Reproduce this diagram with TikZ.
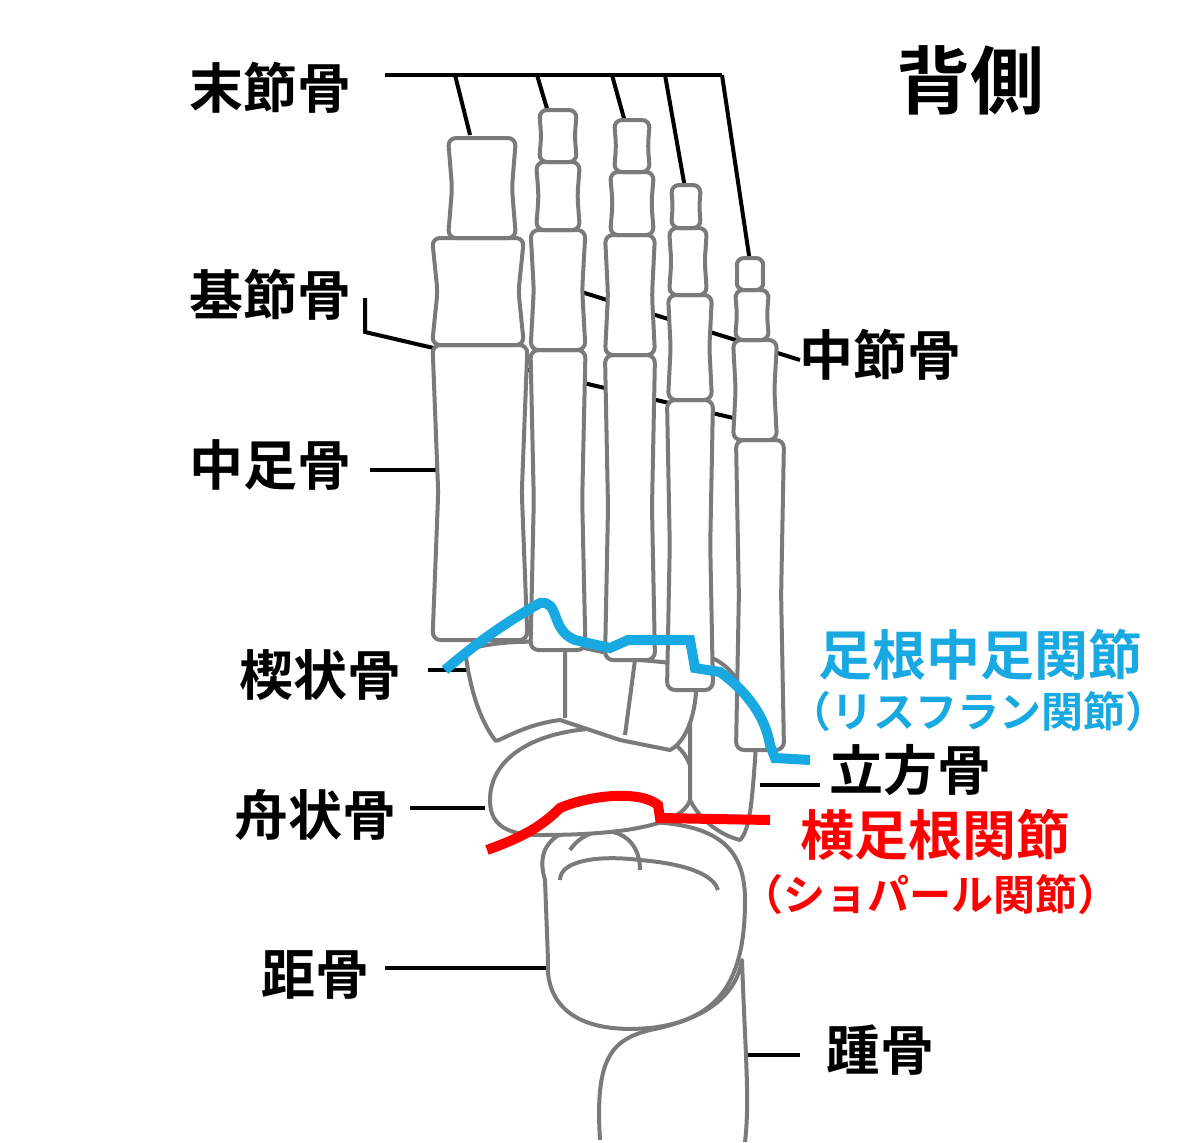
\documentclass[tikz,border=0pt]{standalone}
\usepackage{fontspec}
\setmainfont{Noto Sans CJK JP}[BoldFont={* Bold}]
\usetikzlibrary{positioning}
\begin{document}
\begin{tikzpicture}[x=0.5pt,y=-0.5pt,
  bone/.style={draw=black!52,line width=2pt,fill=white,line join=round},
  leader/.style={draw=black,line width=2pt},
  lbl/.style={font=\bfseries\fontsize{27}{30}\selectfont,inner sep=0pt},
  small/.style={font=\bfseries\fontsize{21}{24}\selectfont,inner sep=0pt}]
\useasboundingbox (0,0) rectangle (1200,1142);

%Fuehrungslinien
\draw[leader] (385,75) -- (722,75);
\draw[leader] (455,75) -- (470,135) (537,75) -- (548,112) (612,75) -- (625,122)
  (665,75) -- (685,188) (722,75) -- (750,262);
\draw[leader] (365,298) -- (365,332) -- (742,420);
\draw[leader] (575,290) -- (800,360);
\draw[leader] (370,470) -- (440,470);
\draw[leader] (428,670) -- (470,670);
\draw[leader] (410,808) -- (485,808);
\draw[leader] (385,968) -- (548,968);
\draw[leader] (740,1055) -- (800,1055);
\draw[leader] (760,785) -- (820,785);

%Knochen Fusswurzel
\draw[bone] (600,1140) .. controls (595,1060) and (610,1040) .. (650,1030)
  .. controls (700,1020) and (735,1000) .. (742,960)
  .. controls (745,1050) and (750,1100) .. (745,1142);
\draw[bone] (545,880) .. controls (530,830) and (580,820) .. (650,822)
  .. controls (720,825) and (745,850) .. (745,900)
  .. controls (745,980) and (720,1020) .. (650,1028)
  .. controls (570,1035) and (545,1000) .. (548,960) -- cycle;
\draw[bone] (560,880) .. controls (560,860) and (600,855) .. (640,860)
  .. controls (700,865) and (715,880) .. (718,890);
\draw[bone,fill=none] (570,850) .. controls (590,820) and (640,825) .. (640,870);
\draw[bone] (490,800) .. controls (490,755) and (540,728) .. (610,728)
  .. controls (680,728) and (700,760) .. (690,800)
  .. controls (680,830) and (600,835) .. (540,835)
  .. controls (500,835) and (490,820) .. (490,800) -- cycle;
\draw[bone] (690,655) .. controls (730,650) and (760,700) .. (755,760)
  .. controls (752,800) and (750,830) .. (740,840)
  .. controls (720,835) and (700,820) .. (690,800) -- cycle;
\draw[bone] (465,650) .. controls (500,640) and (540,640) .. (570,645)
  -- (640,660) -- (695,665) .. controls (700,700) and (690,740) .. (670,750)
  -- (620,740) -- (560,720) .. controls (520,725) and (495,745) .. (495,740)
  .. controls (480,720) and (470,690) .. (465,650) -- cycle;
\draw[bone,fill=none] (565,650) -- (565,718) (635,660) -- (625,735);

%Zehen
\foreach \cx/\t/\b/\w in {480/345/640/95, 478/238/345/92, 482/138/238/68,
  558/350/650/55, 558/230/350/55, 558/162/230/44, 558/110/162/38,
  630/355/660/50, 630/235/355/50, 632/172/235/44, 632/120/172/36,
  690/400/690/46, 690/295/400/44, 688/228/295/38, 686/185/228/30,
  760/440/750/48, 755/340/440/44, 752/290/340/34, 750/258/290/28}
  \draw[bone,rounded corners=4pt] (\cx-\w/2,\t) -- (\cx-\w/2+0.06*\w,\t/2+\b/2)
    -- (\cx-\w/2,\b) -- (\cx+\w/2,\b) -- (\cx+\w/2-0.06*\w,\t/2+\b/2)
    -- (\cx+\w/2,\t) -- cycle;

%Gelenklinien
\draw[draw={rgb,255:red,24;green,168;blue,226},line width=5pt]
  (445,670) .. controls (480,640) and (510,620) .. (540,603)
  .. controls (560,600) and (550,630) .. (575,640)
  -- (610,648) -- (628,640) -- (690,640) -- (695,668) -- (720,672)
  .. controls (745,690) and (765,715) .. (770,745) -- (775,758) -- (810,760);
\draw[draw=red,line width=5pt]
  (487,850) .. controls (520,838) and (540,828) .. (560,808)
  .. controls (590,795) and (640,790) .. (658,805) -- (660,818) -- (770,820);

%Beschriftung
\node[font=\bfseries\fontsize{37}{40}\selectfont,inner sep=0pt] (dorsal) at (970,80) {背側};
\node[lbl] (distal) at (270,88) {末節骨};
\node[lbl] (proximal) at (270,295) {基節骨};
\node[lbl] (middle) at (880,355) {中節骨};
\node[lbl] (meta) at (270,465) {中足骨};
\node[lbl] (cune) at (320,675) {楔状骨};
\node[lbl,text={rgb,255:red,24;green,168;blue,226}] (lisfranc) at (980,655) {足根中足関節};
\node[small,text={rgb,255:red,24;green,168;blue,226}] (lisfranc2) at (978,712) {（リスフラン関節）};
\node[lbl] (cuboid) at (910,770) {立方骨};
\node[lbl] (navic) at (315,815) {舟状骨};
\node[lbl,text=red] (chopart) at (935,835) {横足根関節};
\node[small,text=red] (chopart2) at (930,895) {（ショパール関節）};
\node[lbl] (talus) at (315,975) {距骨};
\node[lbl] (calc) at (880,1050) {踵骨};
\end{tikzpicture}
\end{document}
